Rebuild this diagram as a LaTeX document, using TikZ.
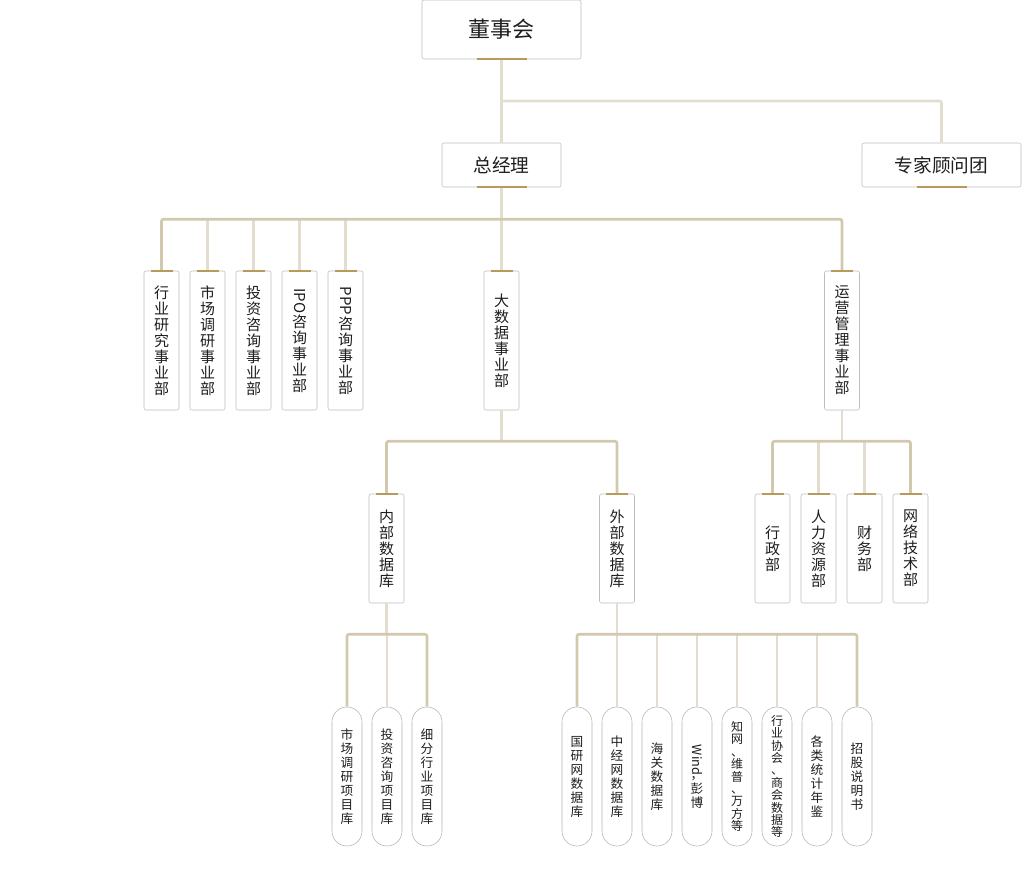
\documentclass[tikz,border=0pt]{standalone}
\usepackage{fontspec}
\setmainfont{Noto Sans CJK SC}
\usepackage{tikz}
\definecolor{boxedge}{HTML}{BDBDBD}
\definecolor{pilledge}{HTML}{B4B4B4}
\definecolor{goldbar}{HTML}{B79A5C}
\definecolor{linkdark}{HTML}{D2C8AE}
\definecolor{linklight}{HTML}{E3DDCF}
\definecolor{inkc}{HTML}{1E1E1E}

\tikzset{
  topbox/.style={draw=boxedge, fill=white, rounded corners=1.5pt, inner sep=0pt,
    text=inkc, minimum height=33pt},
  vbox/.style={draw=boxedge, fill=white, rounded corners=1.5pt, inner sep=0pt,
    text=inkc, align=center, minimum width=26.25pt, minimum height=104.25pt,
    font=\fontsize{11.25pt}{12pt}\selectfont},
  vboxs/.style={vbox, minimum height=81.75pt},
  pill/.style={draw=pilledge, fill=white, rounded corners=11.2pt, inner sep=0pt,
    text=inkc, align=center, minimum width=22.5pt, minimum height=104.25pt,
    font=\fontsize{9.5pt}{10.5pt}\selectfont},
  tightpill/.style={pill, font=\fontsize{9pt}{9.3pt}\selectfont},
  linkin/.style={linklight, line width=2pt},
  linkout/.style={linkdark, line width=2pt, rounded corners=1.5pt},
  goldtop/.style={goldbar, line width=1.5pt},
}

\begin{document}
\begin{tikzpicture}[x=0.75pt, y=-0.75pt]
    \useasboundingbox (0,0) rectangle (1022,890);

    % top level
    \node[topbox, minimum width=119.25pt, minimum height=44.25pt,
      font=\fontsize{16.5pt}{18pt}\selectfont] (dsh) at (501.5,29.5) {董事会};
    \node[topbox, minimum width=89.25pt, font=\fontsize{14pt}{16pt}\selectfont]
      (zjl) at (501.5,165) {总经理};
    \node[topbox, minimum width=119.25pt, font=\fontsize{14pt}{16pt}\selectfont]
      (zjgw) at (941.5,165) {专家顾问团};

    % business units
    \node[vbox] (hy) at (161.5,340.5) {行\\业\\研\\究\\事\\业\\部};
    \node[vbox] (sc) at (207.5,340.5) {市\\场\\调\\研\\事\\业\\部};
    \node[vbox] (tz) at (253.5,340.5) {投\\资\\咨\\询\\事\\业\\部};
    \node[vbox] (ipo) at (299.5,340.5) {\rotatebox[origin=c]{-90}{IPO}\\咨\\询\\事\\业\\部};
    \node[vbox] (ppp) at (345.5,340.5) {\rotatebox[origin=c]{-90}{PPP}\\咨\\询\\事\\业\\部};
    \node[vbox] (dsj) at (501.5,340.5) {大\\数\\据\\事\\业\\部};
    \node[vbox] (yy) at (842,340.5) {运\\营\\管\\理\\事\\业\\部};

    % second level
    \node[vboxs] (nb) at (386.5,548.5) {内\\部\\数\\据\\库};
    \node[vboxs] (wb) at (617,548.5) {外\\部\\数\\据\\库};
    \node[vboxs] (xz) at (772.5,548.5) {行\\政\\部};
    \node[vboxs] (rl) at (818.5,548.5) {人\\力\\资\\源\\部};
    \node[vboxs] (cw) at (864.5,548.5) {财\\务\\部};
    \node[vboxs] (wl) at (910.5,548.5) {网\\络\\技\\术\\部};

    % databases
    \node[pill] (scxm) at (347,776.5) {市\\场\\调\\研\\项\\目\\库};
    \node[pill] (tzxm) at (387,776.5) {投\\资\\咨\\询\\项\\目\\库};
    \node[pill] (xfxm) at (427,776.5) {细\\分\\行\\业\\项\\目\\库};
    \node[pill] (gyw) at (577,776.5) {国\\研\\网\\数\\据\\库};
    \node[pill] (zjw) at (617,776.5) {中\\经\\网\\数\\据\\库};
    \node[pill] (hgsj) at (657,776.5) {海\\关\\数\\据\\库};
    \node[pill] (wind) at (697,776.5) {\rotatebox[origin=c]{-90}{Wind}\\，\\彭\\博};
    \node[tightpill] (zw) at (737,776.5) {知\\网\\、\\维\\普\\、\\万\\方\\等};
    \node[tightpill] (hyxh) at (777,776.5) {行\\业\\协\\会\\、\\商\\会\\数\\据\\等};
    \node[pill] (tjnj) at (817,776.5) {各\\类\\统\\计\\年\\鉴};
    \node[pill] (zgsm) at (857,776.5) {招\\股\\说\\明\\书};

    % connectors
    \coordinate (b0) at (501.5,101);
    \draw[linkin] (dsh.south) -- (zjl.north);
    \draw[linkin, rounded corners=1.5pt] (b0) -| (zjgw.north);

    \draw[linkin] (zjl.south) -- ++(0,32) coordinate (b1);
    \foreach \n in {sc,tz,ipo,ppp,dsj}
      \draw[linkin] (\n.north) -- (\n.north |- b1);
    \draw[linkout] (hy.north) |- (b1) -| (yy.north);

    \draw[linkin] (dsj.south) -- ++(0,31) coordinate (b2);
    \draw[linkout] (nb.north) |- (b2) -| (wb.north);

    \draw[linkin] (yy.south) -- ++(0,31) coordinate (b3);
    \foreach \n in {rl,cw}
      \draw[linkin] (\n.north) -- (\n.north |- b3);
    \draw[linkout] (xz.north) |- (b3) -| (wl.north);

    \draw[linkin] (nb.south) -- ++(0,31) coordinate (b4);
    \draw[linkin] (tzxm.north) -- (tzxm.north |- b4);
    \draw[linkout] (scxm.north) |- (b4) -| (xfxm.north);

    \draw[linkin] (wb.south) -- ++(0,31) coordinate (b5);
    \foreach \n in {zjw,hgsj,wind,zw,hyxh,tjnj}
      \draw[linkin] (\n.north) -- (\n.north |- b5);
    \draw[linkout] (gyw.north) |- (b5) -| (zgsm.north);

    % gold marks
    \foreach \n in {dsh,zjl,zjgw}
      \draw[goldtop] ([xshift=-18.75pt]\n.south) -- ([xshift=18.75pt]\n.south);
    \foreach \n in {hy,sc,tz,ipo,ppp,dsj,yy,nb,wb,xz,rl,cw,wl}
      \draw[goldtop] ([xshift=-8.25pt,yshift=-0.5pt]\n.north) -- ([xshift=8.25pt,yshift=-0.5pt]\n.north);
  \end{tikzpicture}
\end{document}
